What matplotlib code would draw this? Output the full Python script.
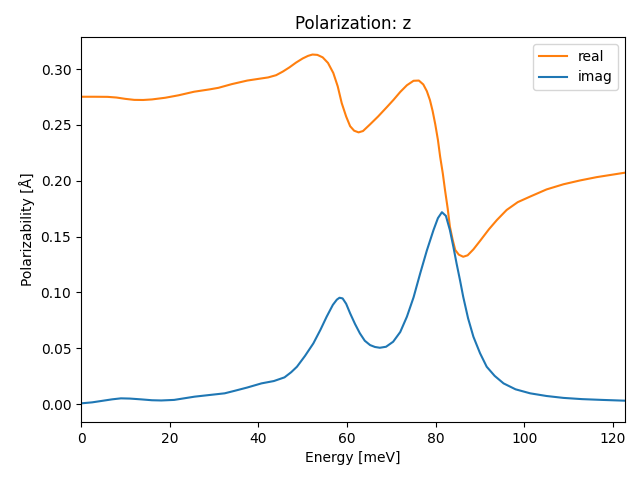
import matplotlib
matplotlib.use("Agg")
import matplotlib.pyplot as plt

# Energy grid (meV) and values
energy_real = [0, 3, 6, 8, 10, 12, 14, 16, 19, 22, 25.5, 29, 31, 34, 37.5, 40, 42.2,
               44, 45.5, 47, 48.5, 50, 51.2, 52.2, 53.3, 54.5, 55.7, 56.9, 57.9, 58.8,
               59.8, 60.7, 61.6, 62.6, 63.6, 65.2, 67, 69, 70.5, 72, 73.5, 75, 76.2,
               77.2, 78, 78.7, 79.3, 79.9, 80.5, 81, 81.6, 82.1, 82.7, 83.2, 83.8, 84.4,
               85.2, 86.2, 87.2, 88.5, 90, 92, 93.8, 96, 98.5, 101.3, 105, 108.8, 112.5,
               116.3, 119.5, 122.7]
real = [0.2752, 0.2752, 0.2751, 0.2745, 0.2733, 0.2724, 0.2723, 0.2728, 0.2743, 0.2765,
        0.2797, 0.2818, 0.2832, 0.2865, 0.2897, 0.2912, 0.2925, 0.2945, 0.2977, 0.3015,
        0.3058, 0.3095, 0.3118, 0.313, 0.3127, 0.3105, 0.3055, 0.2965, 0.2845, 0.2695,
        0.2575, 0.2488, 0.2448, 0.2433, 0.2445, 0.2505, 0.2575, 0.266, 0.2725, 0.2795,
        0.2855, 0.2895, 0.2897, 0.2862, 0.2802, 0.2722, 0.2625, 0.2505, 0.2365, 0.2215,
        0.2065, 0.1916, 0.1752, 0.1588, 0.1475, 0.138, 0.1338, 0.1319, 0.1332, 0.1385,
        0.1461, 0.1565, 0.1648, 0.1738, 0.1808, 0.1858, 0.1922, 0.1968, 0.2002, 0.2032,
        0.2052, 0.2072]

energy_imag = [0, 2.5, 4.5, 7, 9, 11, 13.5, 16, 18.1, 21, 25.6, 29, 32.4, 34.7, 37.5,
               40.7, 43.5, 45.9, 47.4, 48.7, 50.5, 52.4, 54, 55.4, 56.8, 57.7, 58.3,
               59, 59.8, 60.7, 61.8, 62.9, 64, 65.2, 66.3, 67.4, 68.8, 70.4, 72, 73.5,
               75, 76.5, 78, 79.5, 80.5, 81.4, 82.3, 83.2, 84, 84.7, 85.5, 86.2, 87.3,
               88.5, 90, 91.5, 93.3, 95.3, 98, 101.3, 105, 108.8, 113, 117.5, 122.7]
imag = [0.0006, 0.0015, 0.0027, 0.0042, 0.0051, 0.0049, 0.0042, 0.0034, 0.0032, 0.0037,
        0.0066, 0.0081, 0.0096, 0.0119, 0.0148, 0.0185, 0.0206, 0.0239, 0.0285, 0.0334,
        0.043, 0.0543, 0.0665, 0.0782, 0.0888, 0.0935, 0.0952, 0.0946, 0.0898, 0.0812,
        0.0717, 0.0633, 0.0567, 0.0528, 0.0511, 0.0504, 0.0513, 0.0558, 0.0645, 0.0782,
        0.0955, 0.117, 0.1375, 0.1558, 0.1665, 0.1718, 0.1685, 0.1558, 0.1405, 0.126,
        0.1105, 0.0961, 0.0768, 0.0603, 0.0455, 0.0334, 0.0252, 0.0185, 0.0132, 0.0096,
        0.0072, 0.0055, 0.0044, 0.0037, 0.003]

fig, ax = plt.subplots(figsize=(6.4, 4.8), dpi=100)
ax.plot(energy_real, real, color="C1", label="real")
ax.plot(energy_imag, imag, color="C0", label="imag")
ax.set_xlim(0, 122.7)
ax.set_ylim(-0.0161, 0.3287)
ax.set_xlabel("Energy [meV]")
ax.set_ylabel("Polarizability [Å]")
ax.set_title("Polarization: z")
ax.legend(loc="upper right")
fig.subplots_adjust(left=0.1266, right=0.9766, top=0.9229, bottom=0.1208)
plt.savefig("out.png", dpi=100)
